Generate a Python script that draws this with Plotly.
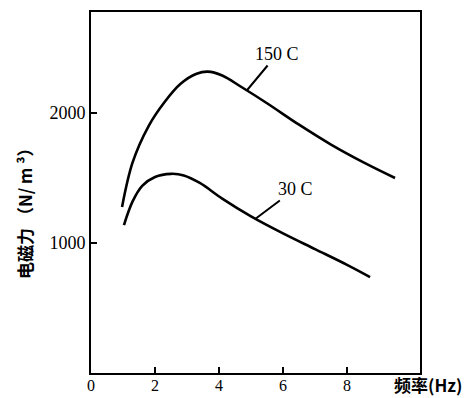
import plotly.graph_objects as go

# Data
x_150 = [0.97, 1.3, 1.8, 2.3, 2.8, 3.3, 3.65, 4.1, 4.7, 5.5, 6.5, 7.5, 8.5, 9.5]
y_150 = [1277, 1620, 1900, 2085, 2225, 2302, 2318, 2288, 2200, 2075, 1910, 1757, 1622, 1500]
x_30 = [1.03, 1.3, 1.6, 2.0, 2.5, 2.9, 3.4, 4.1, 5.0, 6.0, 7.0, 8.0, 8.72]
y_30 = [1138, 1320, 1440, 1508, 1532, 1520, 1462, 1342, 1205, 1074, 953, 832, 738]
x_ticks = [0, 2, 4, 6, 8]
x_tick_text = ["0", "2", "4", "6", "8"]
y_ticks = [1000, 2000]
y_tick_text = ["1000", "2000"]
labels = ["150 C", "30 C"]

serif = "Liberation Serif, Times New Roman, serif"

fig = go.Figure()
fig.add_trace(go.Scatter(x=x_150, y=y_150, mode="lines",
                         line=dict(color="black", width=2.6, shape="spline", smoothing=1.0), showlegend=False))
fig.add_trace(go.Scatter(x=x_30, y=y_30, mode="lines",
                         line=dict(color="black", width=2.6, shape="spline", smoothing=1.0), showlegend=False))

fig.add_annotation(x=4.88, y=2177, text=labels[0], showarrow=True, arrowhead=0, arrowwidth=2,
                   arrowcolor="black", ax=30, ay=-36, standoff=0,
                   font=dict(family=serif, size=18, color="black"))
fig.add_annotation(x=5.13, y=1185, text=labels[1], showarrow=True, arrowhead=0, arrowwidth=2,
                   arrowcolor="black", ax=40, ay=-30, standoff=0,
                   font=dict(family=serif, size=18, color="black"))

fig.add_annotation(xref="paper", yref="paper", x=1.025, y=-0.033, text="<b>频率(Hz)</b>", showarrow=False,
                   font=dict(family="Noto Sans CJK SC", size=17, color="black"), xanchor="center", yanchor="middle")
fig.add_annotation(xref="paper", yref="paper", x=-0.2, y=0.455, text="<b>电磁力 （N/ m ³）</b>", showarrow=False,
                   textangle=-90, font=dict(family="Noto Sans CJK SC", size=17, color="black"),
                   xanchor="center", yanchor="middle")

fig.update_xaxes(range=[0, 10.28], tickvals=x_ticks, ticktext=x_tick_text, ticks="inside", ticklen=6,
                 tickwidth=1.5, tickcolor="black", showline=True, linecolor="black", linewidth=2,
                 mirror=True, showgrid=False, zeroline=False, automargin=False, ticklabelstandoff=-3,
                 tickfont=dict(family=serif, size=16, color="black"))
fig.update_yaxes(range=[0, 2777], tickvals=y_ticks, ticktext=y_tick_text, ticks="inside", ticklen=6,
                 tickwidth=1.5, tickcolor="black", showline=True, linecolor="black", linewidth=2,
                 mirror=True, showgrid=False, zeroline=False, automargin=False,
                 tickfont=dict(family=serif, size=18, color="black"))

fig.update_layout(width=470, height=398, margin=dict(l=91, r=50, t=12, b=25),
                  paper_bgcolor="white", plot_bgcolor="white")
fig.write_html("out.html")
